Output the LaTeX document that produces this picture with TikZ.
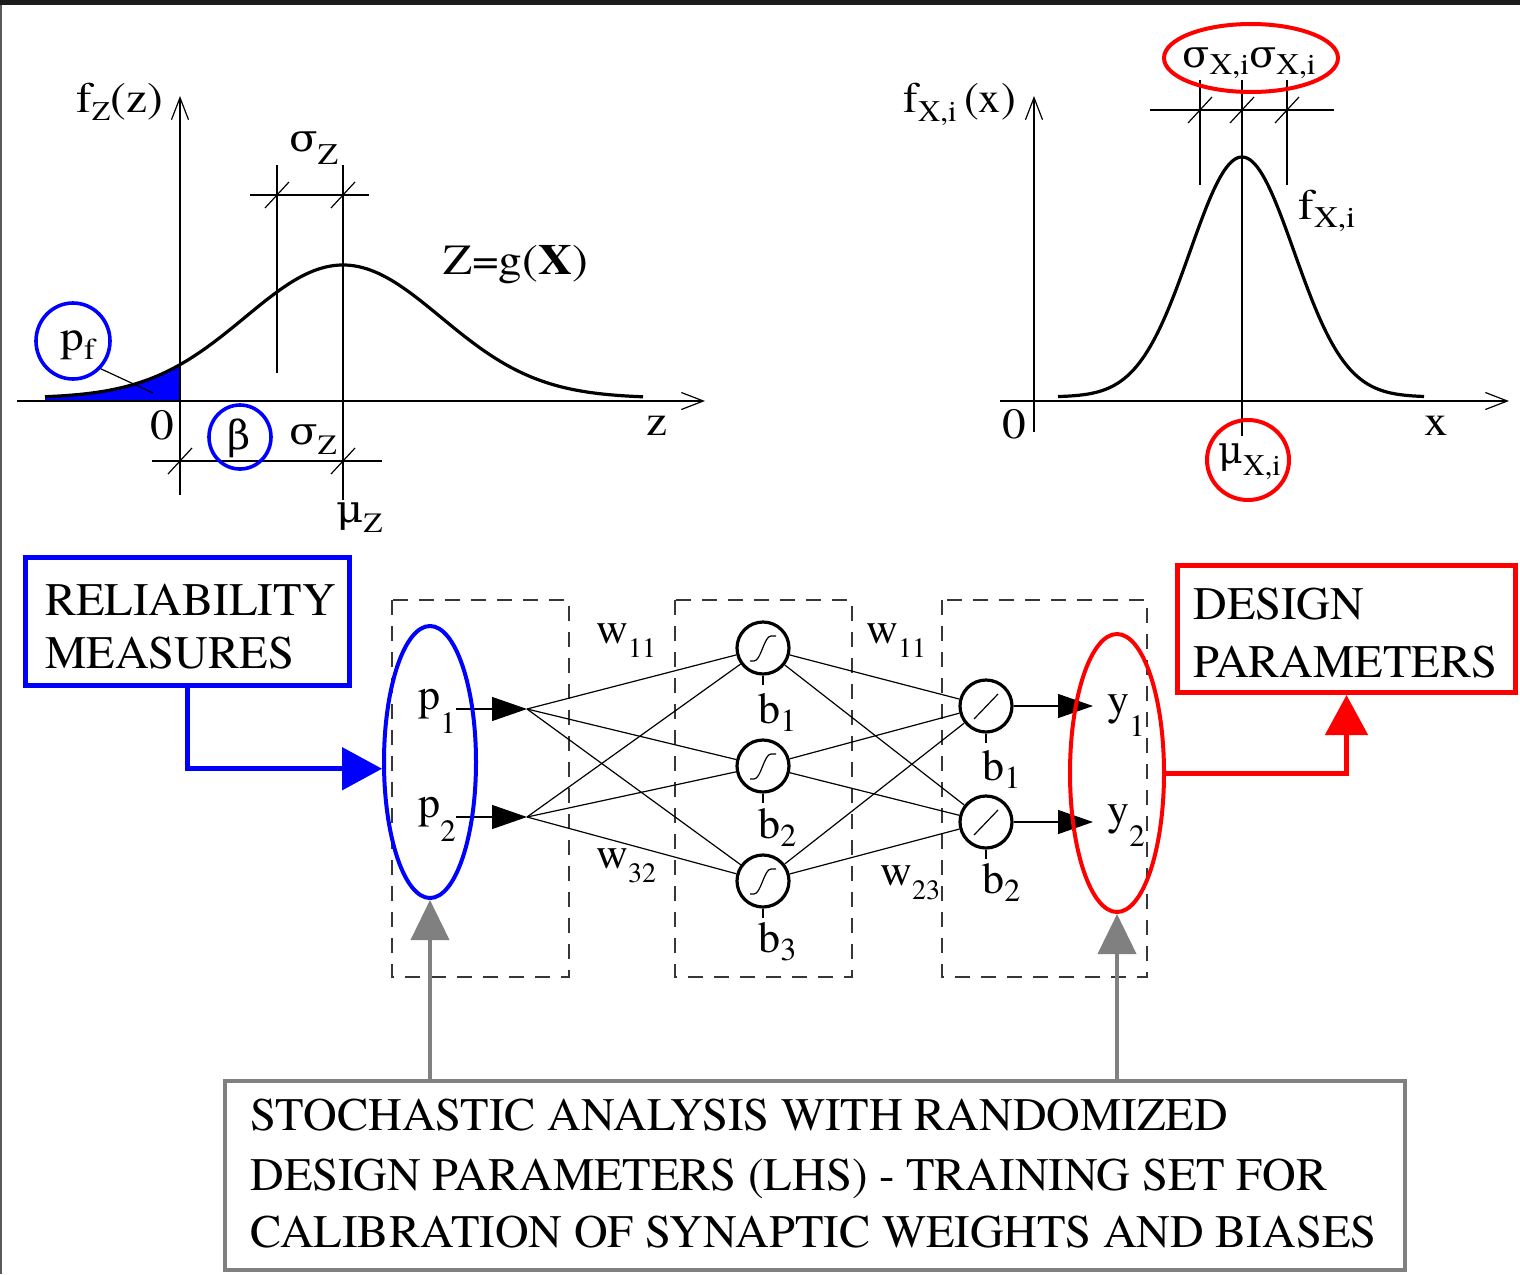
\documentclass[tikz,border=0pt]{standalone}
\usepackage{graphicx}
\usepackage{fontspec}
\setmainfont{texgyretermes}[Extension=.otf,UprightFont=*-regular,BoldFont=*-bold,ItalicFont=*-italic,BoldItalicFont=*-bolditalic]
\newfontfamily\grk{DejaVu Serif}
\usetikzlibrary{arrows.meta,shapes.geometric}
\newcommand\sbs[3]{\raisebox{-#1pt}{\fontsize{#2pt}{#2pt}\selectfont #3}}
\newcommand\wx[1]{\scalebox{1.1}[1]{#1}}
\newcommand\gsig{{\grk\fontsize{19pt}{19pt}\selectfont σ}}
\newcommand\gmu{{\grk\fontsize{19pt}{19pt}\selectfont μ}}
\newcommand\gbeta{{\grk\fontsize{20pt}{20pt}\selectfont β}}
\definecolor{pblue}{RGB}{0,0,255}
\definecolor{pred}{RGB}{255,0,0}
\definecolor{pgray}{RGB}{128,128,128}
\definecolor{dashgray}{RGB}{55,55,55}
\definecolor{topbar}{RGB}{28,28,28}
\definecolor{leftedge}{RGB}{90,90,90}
\begin{document}
\begin{tikzpicture}[x=0.5pt,y=-0.5pt,
  lbl/.style={inner sep=0pt,anchor=base west,font=\fontsize{21.5pt}{21.5pt}\selectfont},
  netlbl/.style={inner sep=0pt,anchor=base west,font=\fontsize{22pt}{22pt}\selectfont},
  boxtxt/.style={inner sep=0pt,anchor=base west,font=\fontsize{23.3pt}{23.3pt}\selectfont},
  thinln/.style={line width=0.6pt},
  openhead/.style={line width=0.6pt,-{Straight Barb[length=11pt,width=8.5pt,line width=0.6pt]}},
  curve/.style={line width=1.6pt,line join=round},
  bluering/.style={ellipse,draw=pblue,line width=1.8pt,inner sep=0pt},
  redring/.style={ellipse,draw=pred,line width=2pt,inner sep=0pt},
  neuron/.style={circle,draw,line width=1.6pt,minimum size=26pt,inner sep=0pt},
  dashbox/.style={draw=dashgray,line width=0.7pt,dash pattern=on 7.5pt off 5.5pt},
  netarrow/.style={line width=0.6pt,-{Triangle[length=17.5pt,width=12pt]}},
  wire/.style={line width=0.6pt},
  bigarrow/.style={line width=2.5pt,-{Triangle[length=20pt,width=21pt]}},
  grayarrow/.style={line width=2pt,color=pgray,-{Triangle[length=20pt,width=19pt]}},
]
\useasboundingbox (0,0) rectangle (1520,1274);
\fill[white] (0,0) rectangle (1520,1274);
\fill[topbar] (0,0) rectangle (1520,5);
\fill[leftedge] (0,5) rectangle (2,1274);

% ---------------- top-left plot ----------------
\fill[pblue] plot[domain=45:180,samples=60,smooth] ({\x},{398-133*exp(-0.5*((\x-343)/98)^2)}) -- (180,401) -- (45,401) -- cycle;
\draw[curve] plot[domain=45:643,samples=150,smooth] ({\x},{398-133*exp(-0.5*((\x-343)/98)^2)});
\draw[openhead] (17,401) -- (705,401);
\draw[openhead] (180,495) -- (180,96);
\draw[thinln] (343,165) -- (343,500);
\draw[thinln] (277,165) -- (277,373);
\draw[thinln] (250,195) -- (369,195);
\draw[thinln] (265,208) -- (289,182);
\draw[thinln] (331,208) -- (355,182);
\draw[thinln] (152,461) -- (382,461);
\draw[thinln] (168,474) -- (192,448);
\draw[thinln] (331,474) -- (355,448);

\node[bluering,minimum width=37pt,minimum height=38pt] (pf) at (73,341) {};
\node[bluering,minimum width=31pt,minimum height=32pt] (beta) at (240,437) {};
\coordinate (pftail) at (153,393);
\draw[thinln] (pf.-45) -- (pftail);

\node[lbl] (fzlab) at (76,112) {\wx{f\sbs{4}{13.5}{Z}(z)}};
\node[lbl] (sztop) at (289,151) {\wx{\gsig\sbs{6.5}{15}{Z}}};
\node[lbl] (zg) at (443,274) {\wx{Z=g(\textbf{X})}};
\node[lbl] (zero1) at (150,439) {\wx{0}};
\node[lbl] (szlow) at (289,444) {\wx{\gsig\sbs{5}{14}{Z}}};
\node[lbl] (muz) at (336,522) {\wx{\gmu\sbs{5}{14}{Z}}};
\node[lbl] (zlab) at (646,435) {\wx{z}};
\node[lbl] (pflab) at (60,350) {\wx{p\sbs{4.5}{15}{f}}};
\node[lbl,anchor=center] (betalab) at (239,438) {\gbeta};

% ---------------- top-right plot ----------------
\draw[curve] plot[domain=1058:1424,samples=150,smooth] ({\x},{397-240*exp(-0.5*((\x-1242)/52)^2)});
\draw[openhead] (1000,401) -- (1509,401);
\draw[openhead] (1034,432) -- (1034,96);
\draw[thinln] (1242,80) -- (1242,436);
\draw[thinln] (1200,80) -- (1200,185);
\draw[thinln] (1287,80) -- (1287,185);
\draw[thinln] (1150,110) -- (1334,110);
\draw[thinln] (1188,123) -- (1212,97);
\draw[thinln] (1230,123) -- (1254,97);
\draw[thinln] (1275,123) -- (1299,97);

\node[redring,minimum width=87pt,minimum height=34pt] (sxx) at (1251,58) {};
\node[redring,minimum width=41pt,minimum height=40pt] (mux) at (1248,460) {};

\node[lbl] (fxlab) at (903,112) {\scalebox{1.03}[1]{f\sbs{5}{15}{X,i}\,(x)}};
\node[lbl] (fxi) at (1298,219) {\wx{f\sbs{4}{15}{X,i}}};
\node[lbl] (zero2) at (1002,438) {\wx{0}};
\node[lbl] (xlab) at (1424,435) {\wx{x}};
\node[lbl] (sxxlab) at (1182,67) {\scalebox{1.05}[1]{\gsig\sbs{3.5}{15}{X,i}\gsig\sbs{3.5}{15}{X,i}}};
\node[lbl] (muxlab) at (1218,463) {\gmu\sbs{6}{15}{X,i}};

% ---------------- network ----------------
\draw[dashbox] (392,600) rectangle (569,977);
\draw[dashbox] (675,600) rectangle (852,977);
\draw[dashbox] (942,600) rectangle (1147,977);

\node[neuron] (h1) at (763,648) {};
\node[neuron] (h2) at (763,766) {};
\node[neuron] (h3) at (763,881) {};
\node[neuron] (o1) at (986,706) {};
\node[neuron] (o2) at (986,822) {};

\coordinate (i1) at (527,709);
\coordinate (i2) at (527,817);
\coordinate (t1) at (1093,706);
\coordinate (t2) at (1093,822);

\node[netlbl] (p1) at (418,709) {p\sbs{12}{15.5}{1}};
\node[netlbl] (p2) at (418,817) {p\sbs{12}{15.5}{2}};
\node[netlbl] (y1) at (1107,714) {y\sbs{11}{15.5}{1}};
\node[netlbl] (y2) at (1107,824) {y\sbs{11}{15.5}{2}};

\draw[netarrow] (p1.east |- i1) -- (i1);
\draw[netarrow] (p2.east |- i2) -- (i2);
\foreach \i in {i1,i2}{\foreach \h in {h1,h2,h3}{\draw[wire] (\i) -- (\h);}}
\foreach \h in {h1,h2,h3}{\foreach \o in {o1,o2}{\draw[wire] (\h) -- (\o);}}
\draw[netarrow] (o1) -- (t1);
\draw[netarrow] (o2) -- (t2);

\foreach \h in {h1,h2,h3}{
  \draw[wire] (\h.center) ++(-13,13) -- ++(4,0) .. controls +(7,0) and +(-7,0) .. ++(17,-25) -- ++(5,0);
  \draw[wire] (\h.south) -- ++(0,9);
}
\foreach \o in {o1,o2}{
  \draw[wire] (\o.center) ++(-12,13) -- ++(24,-25);
  \draw[wire] (\o.south) -- ++(0,9);
}

\node[netlbl] (hb1) at (758,723) {b\sbs{4}{16}{1}};
\node[netlbl] (hb2) at (758,838) {b\sbs{4}{16}{2}};
\node[netlbl] (hb3) at (758,952) {b\sbs{4}{16}{3}};
\node[netlbl] (ob1) at (982,780) {b\sbs{4}{16}{1}};
\node[netlbl] (ob2) at (982,893) {b\sbs{4}{16}{2}};
\node[netlbl] (w11a) at (596,643) {w\sbs{7}{14}{11}};
\node[netlbl] (w32) at (596,868) {w\sbs{7}{14}{32}};
\node[netlbl] (w11b) at (866,643) {w\sbs{7}{14}{11}};
\node[netlbl] (w23) at (880,885) {w\sbs{7}{14}{23}};

\node[ellipse,draw=pblue,line width=2pt,inner sep=0pt,minimum width=46pt,minimum height=136pt] (blueell) at (430,762) {};
\node[ellipse,draw=pred,line width=2pt,inner sep=0pt,minimum width=47pt,minimum height=139pt] (redell) at (1117,773) {};

% ---------------- boxes ----------------
\node[draw=pblue,line width=2.5pt,minimum width=162pt,minimum height=64pt,inner sep=0pt] (relbox) at (187.5,621.5) {};
\node[boxtxt] (rel1) at (45,615) {RELIABILITY};
\node[boxtxt] (rel2) at (45,668) {MEASURES};

\node[draw=pred,line width=2.5pt,minimum width=169pt,minimum height=63.5pt,inner sep=0pt] (desbox) at (1346.5,629) {};
\node[boxtxt] (des1) at (1193,619) {DESIGN};
\node[boxtxt] (des2) at (1193,677) {PARAMETERS};

\node[draw=pgray,line width=2pt,minimum width=590pt,minimum height=94.5pt,inner sep=0pt] (botbox) at (815,1175.5) {};
\node[boxtxt] (bot1) at (250,1130) {STOCHASTIC ANALYSIS WITH RANDOMIZED};
\node[boxtxt] (bot2) at (250,1190) {DESIGN PARAMETERS (LHS) - TRAINING SET FOR};
\node[boxtxt] (bot3) at (250,1247) {CALIBRATION OF SYNAPTIC WEIGHTS AND BIASES};

% ---------------- big connectors ----------------
\draw[bigarrow,color=pblue] (relbox.south) |- (blueell.188);
\draw[bigarrow,color=pred] (redell.east) -| (desbox.south);
\draw[grayarrow] (botbox.north -| blueell.south) -- (blueell.south);
\draw[grayarrow] (botbox.north -| redell.south) -- (redell.south);
\end{tikzpicture}
\end{document}
